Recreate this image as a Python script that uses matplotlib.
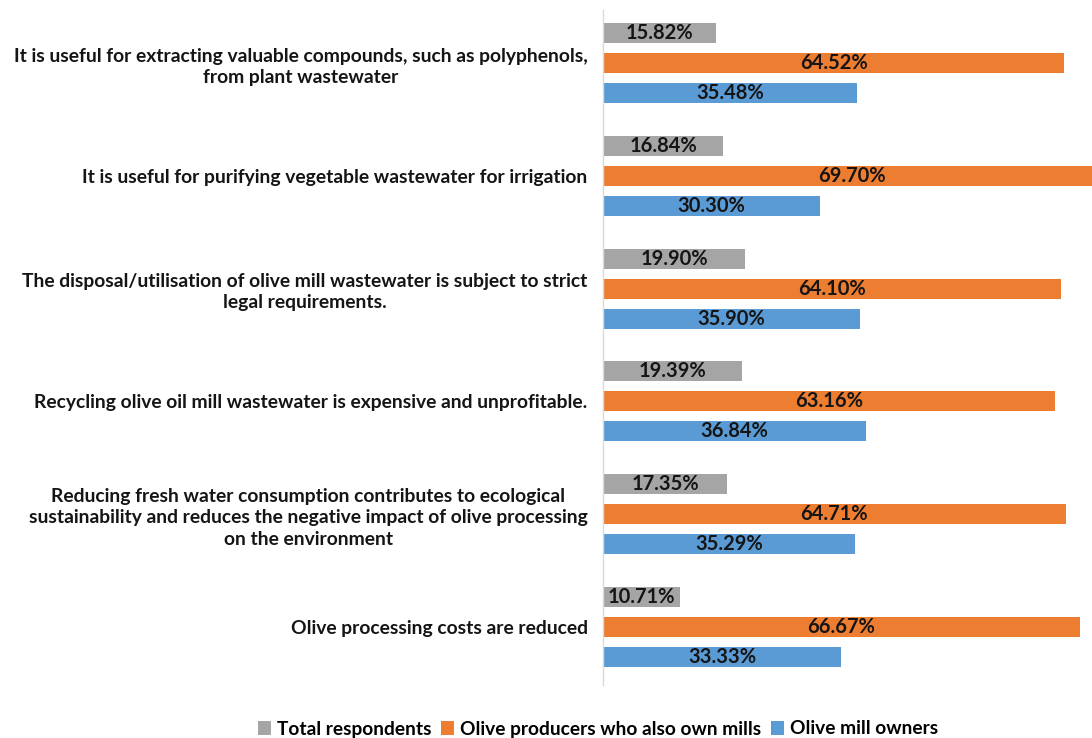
import matplotlib
matplotlib.use("Agg")

import matplotlib.pyplot as plt
import numpy as np

# --- Dados ---
categorias = [
    "It is useful for extracting valuable compounds, such as polyphenols,\nfrom plant wastewater",
    "It is useful for purifying vegetable wastewater for irrigation",
    "The disposal/utilisation of olive mill wastewater is subject to strict\nlegal requirements.",
    "Recycling olive oil mill wastewater is expensive and unprofitable.",
    "Reducing fresh water consumption contributes to ecological\nsustainability and reduces the negative impact of olive processing\non the environment",
    "Olive processing costs are reduced",
]
series = ["Total respondents", "Olive producers who also own mills", "Olive mill owners"]
total = [15.82, 16.84, 19.90, 19.39, 17.35, 10.71]
produtores = [64.52, 69.70, 64.10, 63.16, 64.71, 66.67]
donos = [35.48, 30.30, 35.90, 36.84, 35.29, 33.33]

cores = ["#a5a5a5", "#ed7d31", "#5b9bd5"]
fonte = "Lato"

W, H = 1092, 738
fig = plt.figure(figsize=(W / 100, H / 100), dpi=100)

# eixo comeca em x=603 px e vai ate a borda direita
px_por_pct = 7.15
ax = fig.add_axes([603 / W, 1 - 685 / H, (W - 603) / W, (685 - 10) / H])
ax.set_xlim(0, (W - 603) / px_por_pct)

passo_grupo = 3.76
base = np.arange(len(categorias)) * passo_grupo
altura = 0.667

for k, (vals, cor) in enumerate(zip([total, produtores, donos], cores)):
    ys = base + k
    ax.barh(ys, vals, height=altura, color=cor, label=series[k])
    for y, v in zip(ys, vals):
        ax.text(v / 2, y, f"{v:.2f}%", ha="center", va="center",
                fontsize=14.5, fontweight="bold", color="#151515", family=fonte)

ax.set_ylim(21.73, -0.767)
ax.set_yticks(base + 1)
ax.set_yticklabels(categorias, fontsize=13.9, fontweight="bold", family=fonte, color="#151515")
for lbl in ax.get_yticklabels():
    lbl.set_multialignment("center")
    lbl.set_linespacing(1.3)
ax.tick_params(axis="y", length=0, pad=11)
ax.tick_params(axis="x", length=0, labelbottom=False)

for lado in ["top", "right", "bottom"]:
    ax.spines[lado].set_visible(False)
ax.spines["left"].set_color("#d9d9d9")
ax.spines["left"].set_linewidth(1)

handles, labels = ax.get_legend_handles_labels()
fig.legend(handles, labels, loc="center", bbox_to_anchor=(598 / W, 1 - 729 / H), ncol=3,
           frameon=False, handlelength=0.7, handleheight=0.7, handletextpad=0.3,
           columnspacing=0.5, prop={"family": fonte, "weight": "bold", "size": 13.8})

plt.savefig("out.png", dpi=100)
